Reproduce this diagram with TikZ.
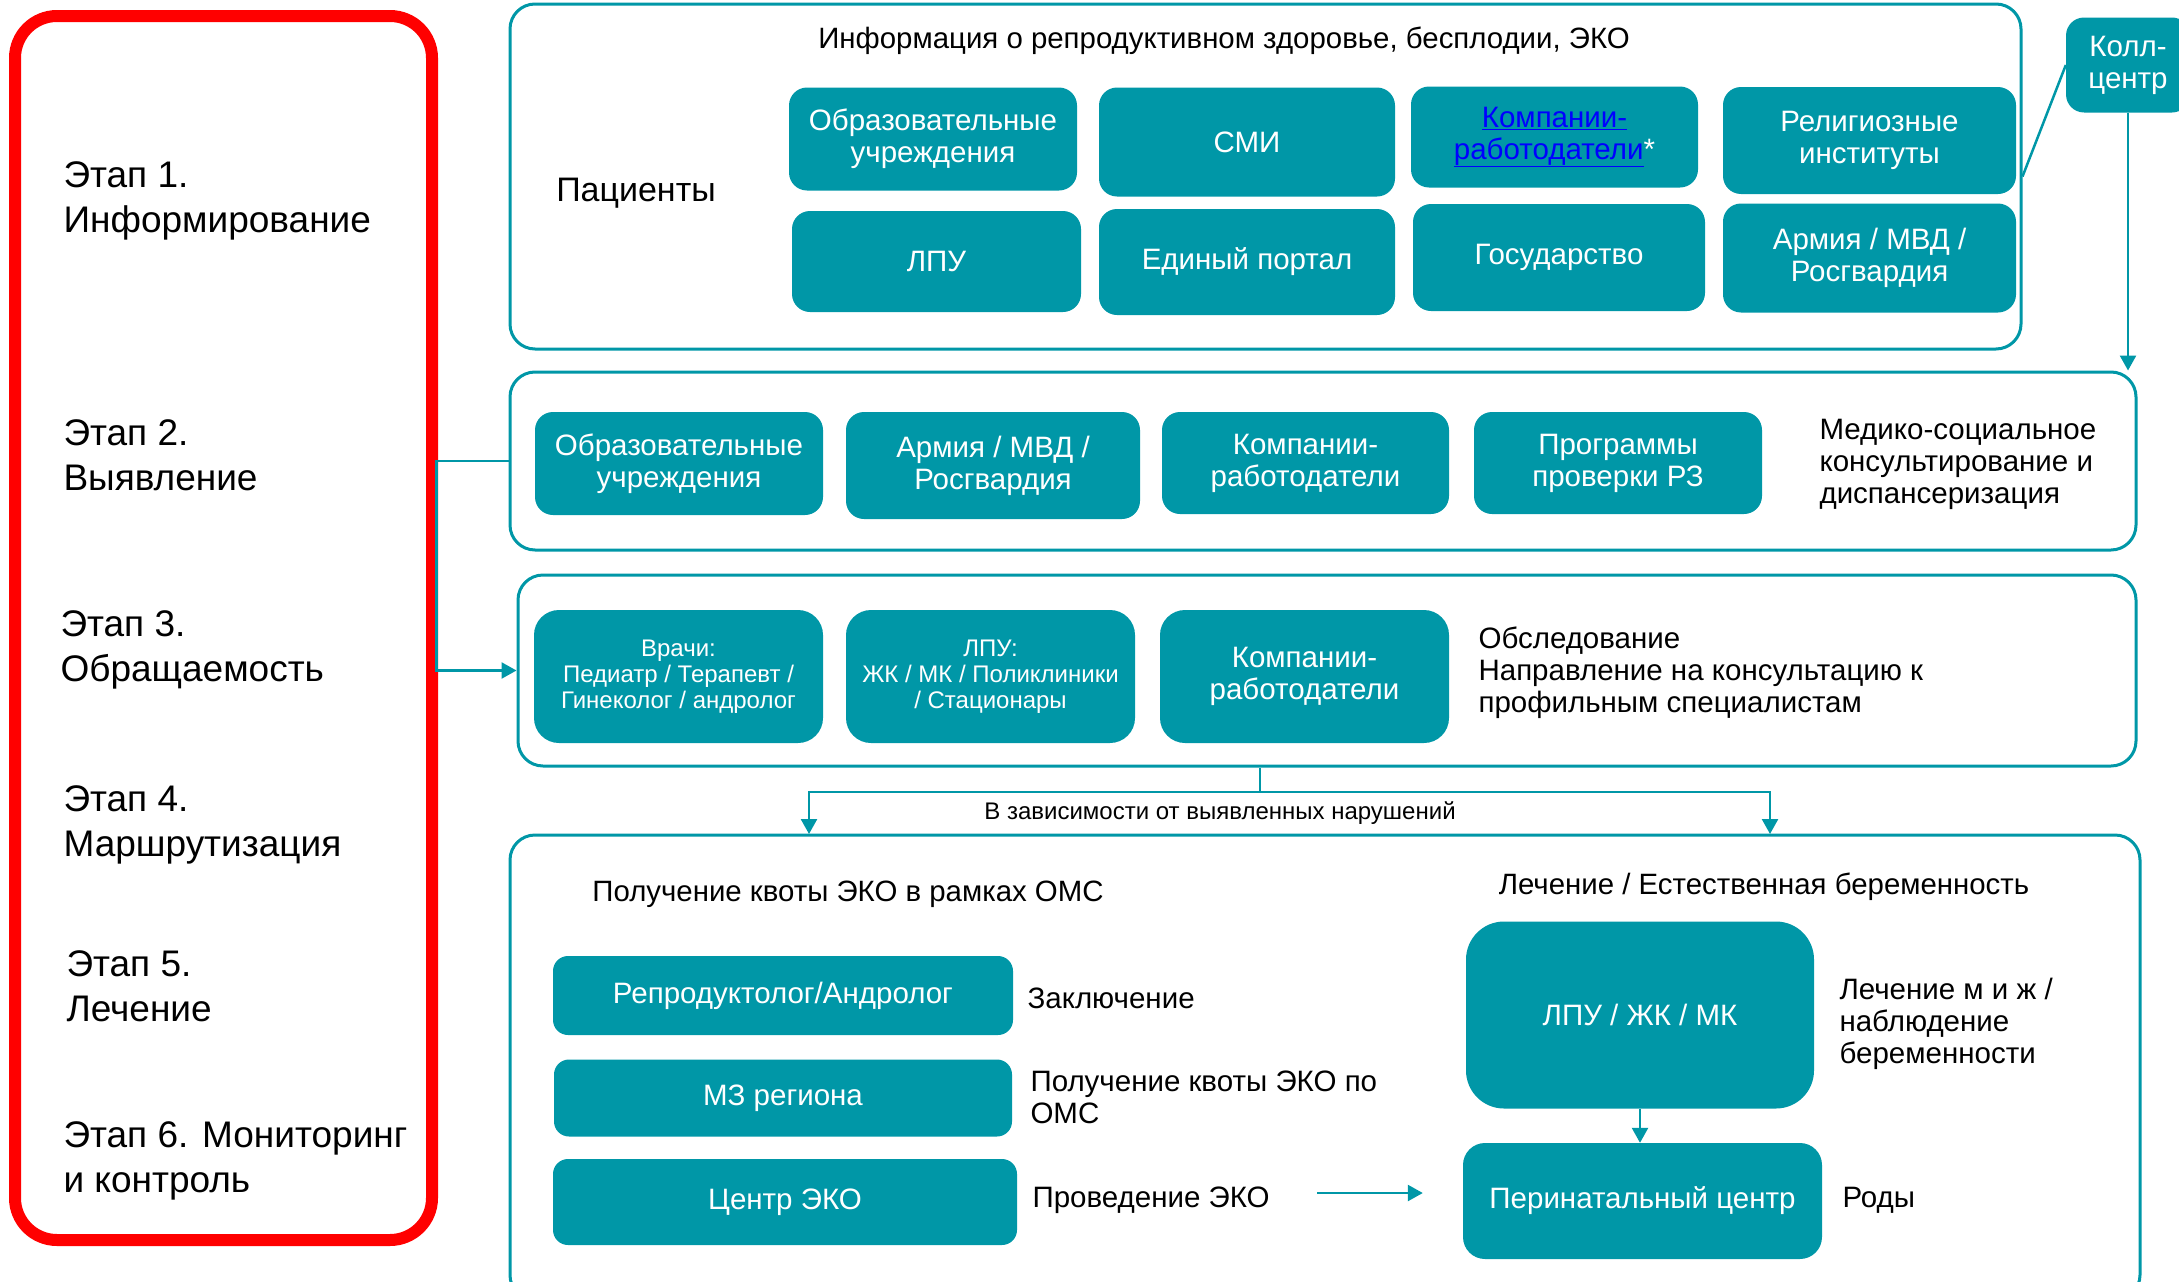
\documentclass[tikz,border=0pt]{standalone}
\usepackage{fontspec}
\setmainfont{Liberation Sans}
\usetikzlibrary{arrows.meta}
\definecolor{teal1}{RGB}{0,151,167}
\tikzset{
  panel/.style={draw=teal1, line width=3pt, rounded corners=25pt, inner sep=0pt},
  blk/.style={fill=teal1, text=white, rounded corners=18pt, align=center, inner sep=4pt, font=\fontsize{29.5}{32}\selectfont},
  stage/.style={anchor=west, align=left, font=\fontsize{37}{45}\selectfont},
  note/.style={anchor=west, align=left, font=\fontsize{29.5}{32}\selectfont},
  con/.style={draw=teal1, line width=2.5pt},
}
\begin{document}
\begin{tikzpicture}[x=1pt, y=-1pt, >={Triangle[length=15pt,width=16pt]}]
\useasboundingbox (0,0) rectangle (2179,1282);

% этапы
\draw[red, line width=12pt, rounded corners=42pt] (15,16) rectangle (432,1240);
\node[stage] (s1) at (60,201) {Этап 1.\\Информирование};
\node[stage] (s2) at (60,455) {Этап 2.\\Выявление};
\node[stage] (s3) at (57,650) {Этап 3.\\Обращаемость};
\node[stage] (s4) at (60,825) {Этап 4.\\Маршрутизация};
\node[stage] (s5) at (63,986) {Этап 5.\\Лечение};
\node[stage] (s6) at (60,1161) {Этап 6. Мониторинг\\и контроль};

% панели
\node[panel, minimum width=1511pt, minimum height=345pt] (p1) at (1265.5,176.5) {};
\node[panel, minimum width=1626pt, minimum height=178pt] (p2) at (1323,461) {};
\node[panel, minimum width=1618pt, minimum height=191pt] (p3) at (1327,670.5) {};
\node[panel, minimum width=1630pt, minimum height=465pt] (p4) at (1325,1067.5) {};

% 1. информирование
\node[font=\fontsize{29.4}{32}\selectfont] (info) at (1224,41) {Информация о репродуктивном здоровье, бесплодии, ЭКО};
\node[font=\fontsize{34}{40}\selectfont] (pac) at (636,193) {Пациенты};
\node[blk, minimum width=288pt, minimum height=103pt] (obr1) at (933,139) {Образовательные\\учреждения};
\node[blk, minimum width=296pt, minimum height=109pt] (smi) at (1247,142) {СМИ};
\node[blk, minimum width=287pt, minimum height=101pt] (komp1) at (1554.5,137)
  {\textcolor{blue}{\underline{Компании-}}\\\textcolor{blue}{\underline{работодатели}}*};
\node[blk, minimum width=293pt, minimum height=107pt] (relig) at (1869.5,140.5) {Религиозные\\институты};
\node[blk, minimum width=289pt, minimum height=101pt] (lpu1) at (936.5,261.5) {ЛПУ};
\node[blk, minimum width=296pt, minimum height=106pt] (portal) at (1247,262) {Единый портал};
\node[blk, minimum width=292pt, minimum height=107pt] (gos) at (1559,257.5) {Государство};
\node[blk, minimum width=293pt, minimum height=109pt] (army1) at (1869.5,258) {Армия / МВД /\\Росгвардия};

\node[blk, minimum width=124pt, minimum height=95pt] (koll) at (2128,65) {Колл-\\центр};
\draw[con] (koll.west) -- (p1.east);
\draw[con, ->] (koll.south) -- (koll.south |- p2.north);

% 2. выявление
\node[blk, minimum width=288pt, minimum height=103pt] (obr2) at (679,463.5) {Образовательные\\учреждения};
\node[blk, minimum width=294pt, minimum height=107pt] (army2) at (993,465.5) {Армия / МВД /\\Росгвардия};
\node[blk, minimum width=287pt, minimum height=102pt] (komp2) at (1305.5,463) {Компании-\\работодатели};
\node[blk, minimum width=288pt, minimum height=102pt] (prog) at (1618,463) {Программы\\проверки РЗ};
\node[note] (medsoc) at (1816,464) {Медико-социальное\\консультирование и\\диспансеризация};
\draw[con, ->] (p2.west) -- ++(-72,0) |- (p3.west);

% 3. обращаемость
\node[blk, rounded corners=25pt, minimum width=289pt, minimum height=133pt, font=\fontsize{24}{26}\selectfont] (vrach) at (678.5,676.5)
  {Врачи:\\Педиатр / Терапевт /\\Гинеколог / андролог};
\node[blk, rounded corners=25pt, minimum width=289pt, minimum height=133pt, font=\fontsize{24}{26}\selectfont] (lpu3) at (990.5,676.5)
  {ЛПУ:\\ЖК / МК / Поликлиники\\/ Стационары};
\node[blk, rounded corners=25pt, minimum width=289pt, minimum height=133pt] (komp3) at (1304.5,676.5) {Компании-\\работодатели};
\node[note] (obsl) at (1475,673) {Обследование\\Направление на консультацию к\\профильным специалистам};

% маршрутизация
\coordinate (split) at (1260,792);
\coordinate (arrL) at (809,834);
\coordinate (arrR) at (1770,834);
\draw[con] (split |- p3.south) -- (split);
\draw[con, ->] (split) -| (arrL);
\draw[con, ->] (split) -| (arrR);
\node[font=\fontsize{24}{27}\selectfont] (zav) at (1220,813) {В зависимости от выявленных нарушений};

% 4-5. лечение
\node[font=\fontsize{29.4}{33}\selectfont] (kvota) at (848,894) {Получение квоты ЭКО в рамках ОМС};
\node[font=\fontsize{29.4}{33}\selectfont] (lechT) at (1764,887) {Лечение / Естественная беременность};
\node[blk, rounded corners=15pt, minimum width=460pt, minimum height=79pt] (repro) at (783,995.5) {Репродуктолог/Андролог};
\node[blk, rounded corners=15pt, minimum width=458pt, minimum height=77pt] (mz) at (783,1098) {МЗ региона};
\node[blk, rounded corners=15pt, minimum width=464pt, minimum height=86pt] (eko) at (785,1202) {Центр ЭКО};
\node[note] (zakl) at (1024,998) {Заключение};
\node[note] (polu) at (1027,1097) {Получение квоты ЭКО по\\ОМС};
\node[note] (prov) at (1029,1200) {Проведение ЭКО};

\node[blk, rounded corners=38pt, minimum width=348pt, minimum height=187pt] (lpu4) at (1640,1015) {ЛПУ / ЖК / МК};
\node[blk, rounded corners=22pt, minimum width=359pt, minimum height=116pt] (perin) at (1642.5,1201) {Перинатальный центр};
\node[note] (lmzh) at (1836,1024) {Лечение м и ж /\\наблюдение\\беременности};
\node[note] (rody) at (1839,1200) {Роды};

\draw[con, ->] ([xshift=44pt,yshift=7pt]prov.east) -- ([xshift=-40pt,yshift=7pt]perin.west |- prov.east);
\draw[con, ->] (lpu4.south) -- (lpu4.south |- perin.north);
\end{tikzpicture}
\end{document}
